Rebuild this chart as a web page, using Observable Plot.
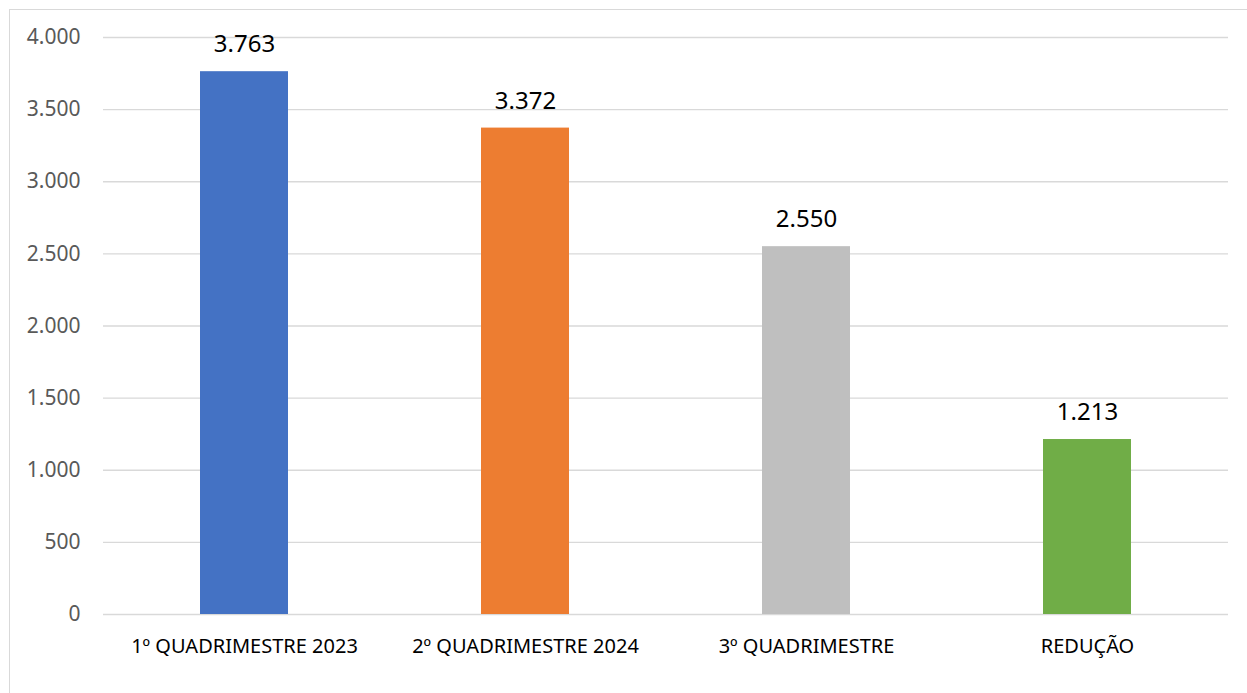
<!DOCTYPE html>
<html>
<head>
<meta charset="utf-8">
<script src="https://cdn.jsdelivr.net/npm/d3@7"></script>
<script src="https://cdn.jsdelivr.net/npm/@observablehq/plot@0.6"></script>
<style>
  html, body { margin: 0; padding: 0; background: #fff; }
  #wrap { position: relative; width: 1247px; height: 693px; overflow: hidden; }
  #frame { position: absolute; left: 9px; top: 9px; width: 1260px; height: 700px; border: 1px solid #D9D9D9; box-sizing: border-box; }
  #chart { position: absolute; left: 0; top: 0; }
</style>
</head>
<body>
<div id="wrap"><div id="frame"></div><div id="chart"></div></div>
<script>
const categories = ["1º QUADRIMESTRE 2023", "2º QUADRIMESTRE 2024", "3º QUADRIMESTRE", "REDUÇÃO"];
const values = [3763, 3372, 2550, 1213];
const colors = ["#4472C4", "#ED7D31", "#BFBFBF", "#70AD47"];
const yTicks = [0, 500, 1000, 1500, 2000, 2500, 3000, 3500, 4000];

const data = categories.map((c, i) => ({category: c, value: values[i], color: colors[i]}));
const locale = d3.formatLocale({decimal: ",", thousands: ".", grouping: [3], currency: ["R$", ""]});
const fmt = locale.format(",d");

const chart = Plot.plot({
  width: 1247,
  height: 693,
  marginLeft: 103,
  marginRight: 19,
  marginTop: 37,
  marginBottom: 79,
  style: {fontFamily: "'Noto Sans', sans-serif", background: "transparent"},
  x: {domain: categories, paddingInner: 0.686, paddingOuter: 0.343, label: null},
  y: {domain: [0, 4000], ticks: yTicks, label: null, tickFormat: fmt},
  marks: [
    Plot.gridY(yTicks, {stroke: "#D9D9D9", strokeOpacity: 1, strokeWidth: 1.3}),
    Plot.barY(data, {x: "category", y: "value", fill: "color"}),
    Plot.text(data, {x: "category", y: "value", text: d => fmt(d.value), dy: -27, fontSize: 24, fill: "#000"}),
    Plot.axisY(yTicks, {tickSize: 0, tickPadding: 23, fontSize: 21, color: "#595959", tickFormat: fmt, label: null}),
    Plot.axisX({tickSize: 0, tickPadding: 24, fontSize: 20, color: "#000", label: null})
  ]
});
document.getElementById("chart").appendChild(chart);
</script>
</body>
</html>
